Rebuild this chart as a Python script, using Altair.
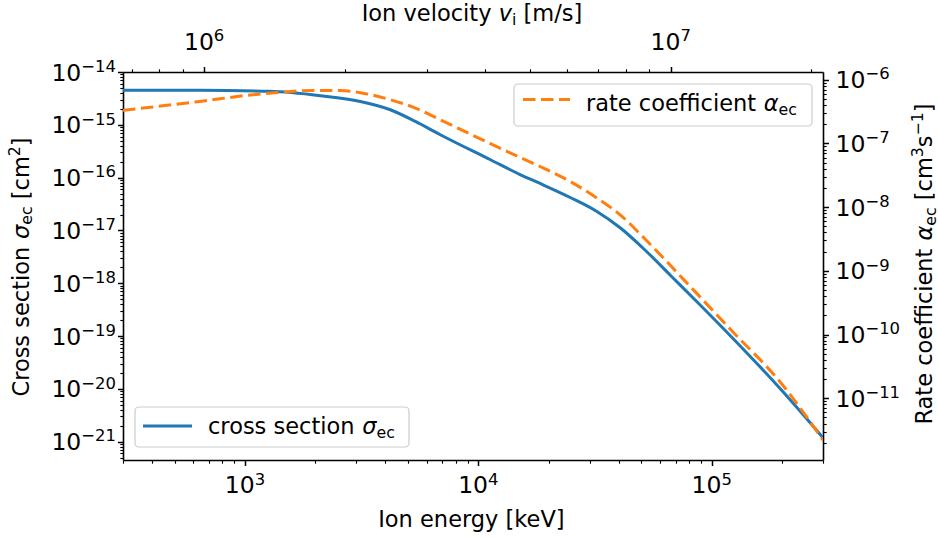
import math
import altair as alt
import pandas as pd

# ---------------- data ----------------
energy_sigma = [300, 641, 1280, 2099, 3119, 4198, 5372, 6871, 11270, 15170, 18490,
                24890, 31840, 40780, 52190, 66820, 89920, 121100, 198600, 300000]
sigma = [4.49e-15, 4.49e-15, 4.30e-15, 3.56e-15, 2.77e-15, 1.93e-15, 1.16e-15,
         6.49e-16, 2.18e-16, 1.13e-16, 7.66e-17, 4.16e-17, 2.36e-17, 1.10e-17, 4.13e-18,
         1.39e-18, 3.75e-19, 9.82e-20, 9.62e-21, 1.19e-21]

energy_alpha = [300, 641, 1083, 1413, 1959, 2558, 3119, 4198, 5372, 6871, 11270,
                15170, 18490, 24890, 31840, 40780, 52190, 66820, 76090, 89920, 121100,
                198600, 300000]
alpha = [3.30e-7, 4.56e-7, 5.81e-7, 6.31e-7, 6.79e-7, 6.79e-7, 6.25e-7, 4.85e-7,
         3.59e-7, 2.35e-7, 9.89e-8, 5.96e-8, 4.30e-8, 2.50e-8, 1.43e-8, 7.43e-9, 3.07e-9,
         1.20e-9, 7.21e-10, 3.77e-10, 1.18e-10, 1.72e-11, 2.21e-12]

velocity_range = [6.7e5, 2.12e7]          # m/s, top axis extent
energy_range = [300, 3e5]                 # keV
sigma_range = [4.5e-22, 1e-14]            # cm^2
alpha_range = [1.074e-12, 1.32e-6]        # cm^3/s

energy_major = [1e3, 1e4, 1e5]
velocity_major = [1e6, 1e7]
sigma_major = [1e-21, 1e-20, 1e-19, 1e-18, 1e-17, 1e-16, 1e-15, 1e-14]
alpha_major = [1e-11, 1e-10, 1e-9, 1e-8, 1e-7, 1e-6]

FONT = "DejaVu Sans"
F_TXT = 22.5
F_TICK = 23.5
BLUE = "#1f77b4"
ORANGE = "#ff7f0e"
PAD_L, PAD_T, PLOT_W, PLOT_H = 123, 72, 700, 388

LOG10 = "(log(datum.value)/LN10)"
MAJOR = f"abs({LOG10} - round({LOG10})) < 1e-6"


def log_ticks(lo, hi):
    out = []
    for e in range(math.floor(math.log10(lo)) - 1, math.ceil(math.log10(hi)) + 2):
        for k in range(1, 10):
            v = float(f"{k}e{e}")
            if lo * 0.9999 <= v <= hi * 1.0001:
                out.append(v)
    return out


def axis(orient, lo, hi):
    return alt.Axis(
        orient=orient, values=log_ticks(lo, hi), labels=False, title=None, grid=False,
        domainColor="black", domainWidth=1.6, tickColor="black",
        tickSize={"condition": {"test": MAJOR, "value": 5.5}, "value": 3.2},
        tickWidth={"condition": {"test": MAJOR, "value": 1.5}, "value": 1.1},
    )


W = {' ': .318, 'a': .613, 'b': .635, 'c': .550, 'd': .635, 'e': .615, 'f': .352, 'g': .635,
     'h': .634, 'i': .278, 'j': .278, 'k': .579, 'l': .278, 'm': .974, 'n': .634, 'o': .612,
     'p': .635, 'q': .635, 'r': .411, 's': .521, 't': .392, 'u': .634, 'v': .592, 'w': .818,
     'x': .592, 'y': .592, 'z': .525, 'C': .698, 'I': .295, 'R': .695, 'V': .684, '[': .390,
     ']': .390, '/': .337, '−': .838, 'σ': .635, 'α': .659}
for d in "0123456789":
    W[d] = .636


def tw(s):
    return sum(W.get(ch, 0.6) for ch in s)


one = pd.DataFrame({"k": [0]})


def rich(pieces, x0, y0, f, angle=0, anchor="start"):
    """Mixed-style text; (x0, y0) in page pixels. kind: n, i, sub, sup."""
    x0, y0 = x0 - PAD_L, y0 - PAD_T
    sizes = [f * 0.7 if k in ("sub", "sup") else f for _, k in pieces]
    total = sum(tw(t) * s for (t, _), s in zip(pieces, sizes))
    pos = -total / 2 if anchor == "middle" else 0.0
    layers = []
    for (txt, kind), size in zip(pieces, sizes):
        dy = 0.17 * f if kind == "sub" else (-0.40 * f if kind == "sup" else 0.0)
        lead = len(txt) - len(txt.lstrip(" "))
        pos += lead * W[' '] * size
        body = txt.strip(" ")
        if angle == 0:
            px, py = x0 + pos, y0 + dy
        else:
            px, py = x0 + dy, y0 - pos
        layers.append(
            alt.Chart(one).mark_text(
                align="left", baseline="alphabetic", font=FONT, fontSize=size,
                fontStyle="italic" if kind == "i" else "normal", angle=angle, color="black"
            ).encode(x=alt.value(px), y=alt.value(py), text=alt.value(body))
        )
        pos += tw(txt.lstrip(" ")) * size
    return layers


def exp_str(v):
    return str(int(round(math.log10(v)))).replace("-", "−")


SUP_SIZE = 0.7 * F_TICK
SUP_RAISE = 0.37 * F_TICK
W10 = tw("10") * F_TICK


def tick_labels(values, domain, channel, orient):
    """'10' + superscript exponent, placed through a log scale equal to the axis scale."""
    df = pd.DataFrame({"v": values, "e": [exp_str(v) for v in values]})
    sc = alt.Scale(type="log", domain=domain, nice=False)
    ew = tw(df["e"].iloc[0]) * SUP_SIZE
    base = alt.Chart(df)
    if channel == "y":
        pos = dict(y=alt.Y("v:Q", scale=sc, axis=None))
        if orient == "left":
            xe = 116 - PAD_L
            xb = xe - ew
            align = "right"
        else:
            xb = 835.5 - PAD_L
            xe = xb + W10
            align = "left"
        m10 = base.mark_text(align=align, baseline="alphabetic", font=FONT, fontSize=F_TICK,
                             dy=8.5, color="black")
        me = base.mark_text(align=align, baseline="alphabetic", font=FONT, fontSize=SUP_SIZE,
                            dy=8.5 - SUP_RAISE, color="black")
        return [m10.encode(x=alt.value(xb), text=alt.value("10"), **pos),
                me.encode(x=alt.value(xe), text="e:N", **pos)]
    pos = dict(x=alt.X("v:Q", scale=sc, axis=None))
    total = W10 + ew
    yb = (493.3 if orient == "bottom" else 50) - PAD_T
    m10 = base.mark_text(align="left", baseline="alphabetic", font=FONT, fontSize=F_TICK,
                         dx=-total / 2, color="black")
    me = base.mark_text(align="left", baseline="alphabetic", font=FONT, fontSize=SUP_SIZE,
                        dx=-total / 2 + W10, color="black")
    return [m10.encode(y=alt.value(yb), text=alt.value("10"), **pos),
            me.encode(y=alt.value(yb - SUP_RAISE), text="e:N", **pos)]


# ---------------- data layers ----------------
df_s = pd.DataFrame({"energy": energy_sigma, "sigma": sigma})
df_a = pd.DataFrame({"energy": energy_alpha, "alpha": alpha})
df_v = pd.DataFrame({"velocity": velocity_range})

xscale = alt.Scale(type="log", domain=energy_range, nice=False)

blue = alt.Chart(df_s).mark_line(color=BLUE, strokeWidth=3, interpolate="monotone", clip=True).encode(
    x=alt.X("energy:Q", scale=xscale, axis=axis("bottom", *energy_range)),
    y=alt.Y("sigma:Q", scale=alt.Scale(type="log", domain=sigma_range, nice=False),
            axis=axis("left", *sigma_range)),
)

orange = alt.Chart(df_a).mark_line(color=ORANGE, strokeWidth=3, strokeDash=[12.5, 5.5],
                                   interpolate="monotone", clip=True).encode(
    x=alt.X("energy:Q", scale=xscale, axis=None),
    y=alt.Y("alpha:Q", scale=alt.Scale(type="log", domain=alpha_range, nice=False),
            axis=axis("right", *alpha_range)),
)

top = alt.Chart(df_v).mark_point(opacity=0).encode(
    x=alt.X("velocity:Q", scale=alt.Scale(type="log", domain=velocity_range, nice=False),
            axis=axis("top", *velocity_range)),
    y=alt.value(0),
)

labels = [
    *tick_labels(energy_major, energy_range, "x", "bottom"),
    *tick_labels(velocity_major, velocity_range, "x", "top"),
    *tick_labels(sigma_major, sigma_range, "y", "left"),
    *tick_labels(alpha_major, alpha_range, "y", "right"),
]


# ---------------- legends ----------------
def legend_box(x0, x1, y0, y1):
    return alt.Chart(one).mark_rect(fill="white", fillOpacity=0.8, stroke="#cccccc",
                                    strokeWidth=1.2, cornerRadius=4).encode(
        x=alt.value(x0 - PAD_L), x2=alt.value(x1 - PAD_L),
        y=alt.value(y0 - PAD_T), y2=alt.value(y1 - PAD_T))


def legend_line(x0, x1, y, color, dash=None):
    kw = dict(color=color, strokeWidth=3)
    if dash:
        kw["strokeDash"] = dash
    return alt.Chart(one).mark_rule(**kw).encode(
        x=alt.value(x0 - PAD_L), x2=alt.value(x1 - PAD_L), y=alt.value(y - PAD_T))


leg = [
    legend_box(514, 812, 84, 126),
    legend_line(523, 570, 99.5, ORANGE, [12.5, 5.5]),
    *rich([("rate coefficient ", "n"), ("α", "i"), ("ec", "sub")], 586, 111, F_TXT),
    legend_box(135, 409, 407, 447),
    legend_line(143, 192, 426, BLUE),
    *rich([("cross section ", "n"), ("σ", "i"), ("ec", "sub")], 208, 434, F_TXT),
]

# ---------------- axis titles ----------------
titles = [
    *rich([("Ion energy [keV]", "n")], 472, 527, F_TXT, anchor="middle"),
    *rich([("Ion velocity ", "n"), ("v", "i"), ("i", "sub"), (" [m/s]", "n")],
          472, 21, F_TXT, anchor="middle"),
    *rich([("Cross section ", "n"), ("σ", "i"), ("ec", "sub"), (" [cm", "n"), ("2", "sup"), ("]", "n")],
          28.5, 267, F_TXT, angle=270, anchor="middle"),
    *rich([("Rate coefficient ", "n"), ("α", "i"), ("ec", "sub"), (" [cm", "n"), ("3", "sup"),
           ("s", "n"), ("−1", "sup"), ("]", "n")],
          932, 264, F_TXT, angle=270, anchor="middle"),
]

chart = alt.layer(blue, orange, top, *labels, *leg, *titles).resolve_scale(
    x="independent", y="independent"
).properties(
    width=PLOT_W, height=PLOT_H,
    autosize=alt.AutoSizeParams(type="none"),
    padding={"left": PAD_L, "top": PAD_T, "right": 938 - PAD_L - PLOT_W,
             "bottom": 539 - PAD_T - PLOT_H},
).configure_view(stroke=None)

chart.save("out.html", embed_options={"renderer": "svg", "actions": False})
